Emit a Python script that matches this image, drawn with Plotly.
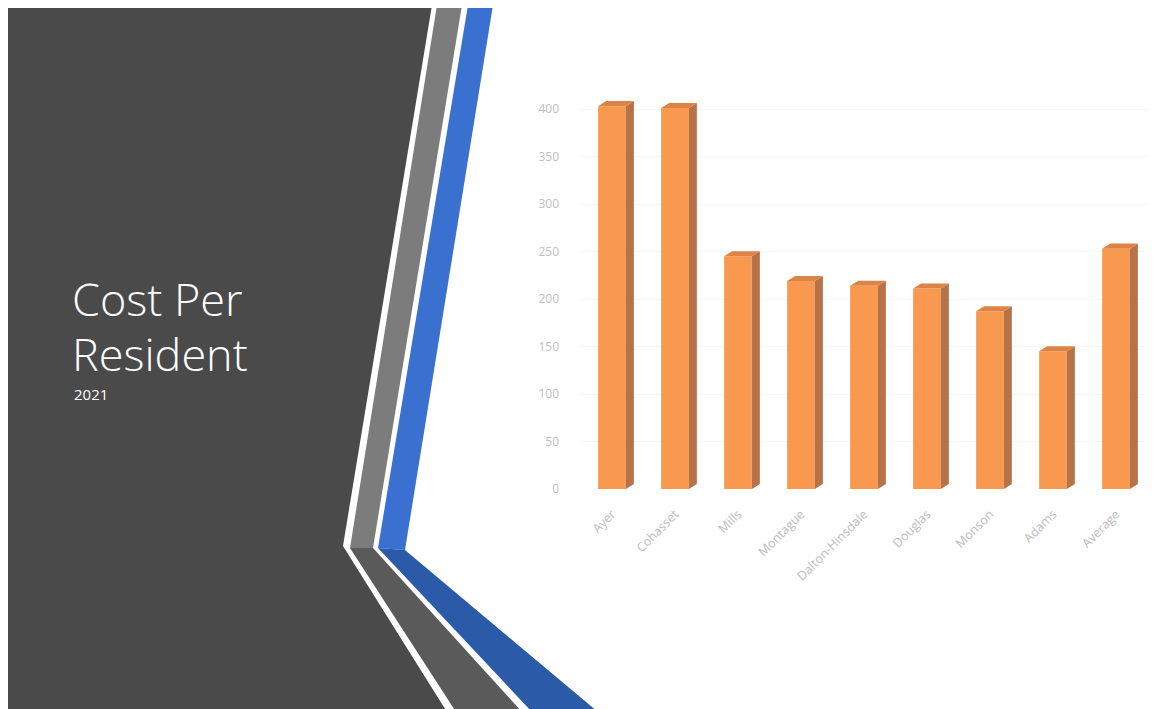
import plotly.graph_objects as go

# page body has an 8px margin; work in reference-pixel coordinates and shift
OFF = 8
W, H = 1155 - OFF, 709 - OFF

categories = ["Ayer", "Cohasset", "Mills", "Montague", "Dalton-Hinsdale",
              "Douglas", "Monson", "Adams", "Average"]
values = [403, 401, 245, 219, 214, 211, 187, 145, 253]
y_ticks = [0, 50, 100, 150, 200, 250, 300, 350, 400]

title_line1 = "Cost Per"
title_line2 = "Resident"
subtitle = "2021"


def px(x, y):
    return (x - OFF) / W, 1 - (y - OFF) / H


def path(points):
    pts = [px(x, y) for x, y in points]
    return "M " + " L ".join(f"{a:.5f},{b:.5f}" for a, b in pts) + " Z"


shapes = []


def poly(points, color):
    shapes.append(dict(type="path", xref="paper", yref="paper", path=path(points),
                       fillcolor=color, line=dict(width=0), layer="below"))


# dark panel
poly([(0, 5), (432, 5), (343, 546), (447, 712), (0, 712)], "#4a4a4a")
# gray stripe upper / lower
poly([(437, 5), (462, 5), (373, 548), (350, 548)], "#7c7c7c")
poly([(350, 548), (373, 548), (522, 712), (456, 712)], "#5a5a5a")
# blue stripe upper / lower
poly([(468, 5), (493, 5), (405, 550), (378, 548)], "#3a70cf")
poly([(378, 548), (405, 550), (598, 712), (532, 712)], "#2b5aa8")

fig = go.Figure()

n = len(categories)
xs = list(range(n))
bw = 0.44
hw = bw / 2
d = 0.127   # depth offset in category units
dy = 5.3    # depth offset in value units

FRONT = "#f99950"
SIDE = "#b77248"
TOP = "#dc8446"

fig.add_trace(go.Bar(x=xs, y=values, width=bw, marker=dict(color=FRONT, line=dict(width=0)),
                     hoverinfo="skip", showlegend=False))

for i, v in zip(xs, values):
    fig.add_trace(go.Scatter(
        x=[i + hw, i + hw + d, i + hw + d, i + hw, i + hw],
        y=[0, dy, v + dy, v, 0],
        fill="toself", fillcolor=SIDE, mode="lines", line=dict(width=0),
        hoverinfo="skip", showlegend=False))
    fig.add_trace(go.Scatter(
        x=[i - hw, i + hw, i + hw + d, i - hw + d, i - hw],
        y=[v, v, v + dy, v + dy, v],
        fill="toself", fillcolor=TOP, mode="lines", line=dict(width=0),
        hoverinfo="skip", showlegend=False))

y0_px, y400_px = 489, 109
top_px = 98
ymax = (y0_px - top_px) / ((y0_px - y400_px) / 400)

fig.update_layout(
    width=W, height=H,
    margin=dict(l=0, r=0, t=0, b=0),
    paper_bgcolor="white", plot_bgcolor="rgba(0,0,0,0)",
    shapes=shapes,
    xaxis=dict(domain=[px(580.5, 0)[0], px(1147.5, 0)[0]], range=[-0.5, n - 0.5],
               tickvals=xs, ticktext=categories, tickangle=-45,
               ticks="outside", ticklen=12, tickcolor="rgba(0,0,0,0)",
               showgrid=False, zeroline=False, showline=False, automargin=False,
               tickfont=dict(family="Open Sans", size=12.5, color="#bcbcbc")),
    yaxis=dict(domain=[px(0, y0_px)[1], px(0, top_px)[1]], range=[0, ymax],
               tickvals=y_ticks, ticks="outside", ticklen=18, tickcolor="rgba(0,0,0,0)",
               showgrid=True, gridcolor="#f6f6f6", zeroline=False, showline=False,
               automargin=False,
               tickfont=dict(family="Open Sans", size=12, color="#c0c0c0")),
    annotations=[
        dict(text=title_line1, xref="paper", yref="paper", x=px(70, 0)[0], y=px(0, 298)[1],
             xanchor="left", yanchor="middle", showarrow=False,
             font=dict(family="Open Sans", size=45, color="white", weight=300)),
        dict(text=title_line2, xref="paper", yref="paper", x=px(70, 0)[0], y=px(0, 353)[1],
             xanchor="left", yanchor="middle", showarrow=False,
             font=dict(family="Open Sans", size=45, color="white", weight=300)),
        dict(text=subtitle, xref="paper", yref="paper", x=px(72, 0)[0], y=px(0, 394)[1],
             xanchor="left", yanchor="middle", showarrow=False,
             font=dict(family="Open Sans", size=15, color="white")),
    ],
)

fig.write_html("out.html")
